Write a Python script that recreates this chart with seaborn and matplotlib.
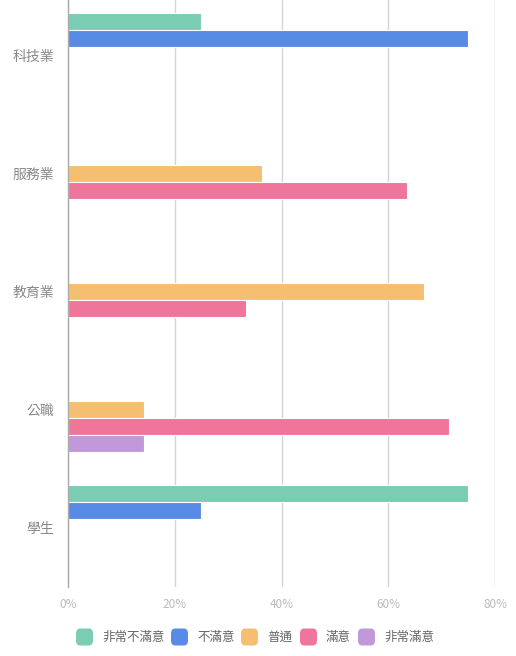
import pandas as pd
import matplotlib
matplotlib.use("Agg")
import matplotlib.pyplot as plt
import seaborn as sns
from matplotlib.patches import FancyBboxPatch

# 資料
industries = ["科技業", "服務業", "教育業", "公職", "學生"]
levels = ["非常不滿意", "不滿意", "普通", "滿意", "非常滿意"]
very_unsatisfied = [0.25, 0.0, 0.0, 0.0, 0.75]
unsatisfied = [0.75, 0.0, 0.0, 0.0, 0.25]
neutral = [0.0, 0.364, 0.667, 0.143, 0.0]
satisfied = [0.0, 0.636, 0.333, 0.714, 0.0]
very_satisfied = [0.0, 0.0, 0.0, 0.143, 0.0]
colors = ["#7ACCB2", "#588BE6", "#F5BE70", "#EF759A", "#C198DA"]
x_ticks = [0, 0.2, 0.4, 0.6, 0.8]

series = [very_unsatisfied, unsatisfied, neutral, satisfied, very_satisfied]
rows = []
for lvl, vals in zip(levels, series):
    for ind, v in zip(industries, vals):
        rows.append({"industry": ind, "level": lvl, "value": v})
df = pd.DataFrame(rows)

sns.set_theme(style="white")
plt.rcParams["font.family"] = ["Noto Sans CJK TC", "DejaVu Sans"]

W, H = 516, 656
fig = plt.figure(figsize=(W / 100, H / 100), dpi=100)
ax = fig.add_axes([68 / W, (H - 587) / H, (495 - 68) / W, 587 / H])

sns.barplot(data=df, y="industry", x="value", hue="level", order=industries,
            hue_order=levels, palette=colors, saturation=1, orient="h", width=0.72,
            edgecolor="white", linewidth=0.8, errorbar=None, legend=False, ax=ax)

ax.set_xlim(0, 0.8)
ax.set_ylim(4.5, -0.466)
ax.set_xticks(x_ticks)
ax.set_xticklabels([f"{int(t * 100)}%" for t in x_ticks])
ax.set_axisbelow(True)
ax.grid(axis="x", color="#d4d4d4", linewidth=1)
ax.grid(axis="y", visible=False)
for side in ["top", "right", "bottom"]:
    ax.spines[side].set_visible(False)
ax.spines["left"].set_color("#aaaaaa")
ax.spines["left"].set_linewidth(1)
ax.tick_params(axis="x", length=0, pad=8, labelsize=8.5, labelcolor="#bbbbbb")
ax.tick_params(axis="y", length=0, pad=10, labelsize=10, labelcolor="#888888")
ax.set_xlabel("")
ax.set_ylabel("")

# 圖例
leg_y = 637
box_x = [76, 171, 241, 300, 358]
for lvl, c, bx in zip(levels, colors, box_x):
    p = FancyBboxPatch(((bx) / W, (H - leg_y - 8.5) / H), 17 / W, 17 / H,
                       boxstyle="round,pad=0,rounding_size=0.008",
                       transform=fig.transFigure, facecolor=c, edgecolor="none")
    fig.add_artist(p)
    fig.text((bx + 26) / W, (H - leg_y) / H, lvl, fontsize=9, color="#666666",
             va="center", ha="left")

fig.savefig("out.png", dpi=100, facecolor="white")
